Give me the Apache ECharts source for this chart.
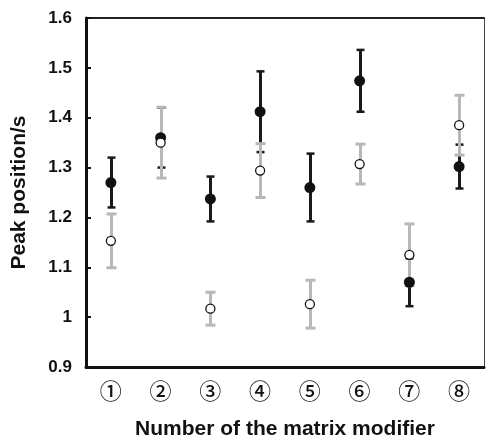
<!DOCTYPE html>
<html>
<head>
<meta charset="utf-8">
<script src="https://cdn.jsdelivr.net/npm/echarts@6/dist/echarts.min.js"></script>
<style>
  html, body { margin: 0; padding: 0; background: #fff; }
  #chart { width: 487px; height: 438px; }
</style>
</head>
<body>
<div id="chart"></div>
<script>
// Matrix modifier numbers
const categories = ['①', '②', '③', '④', '⑤', '⑥', '⑦', '⑧'];
// Filled markers: mean peak position and error
const filledMean = [1.270, 1.360, 1.237, 1.412, 1.260, 1.474, 1.070, 1.302];
const filledErr  = [0.050, 0.060, 0.045, 0.081, 0.068, 0.062, 0.048, 0.044];
// Open markers: mean peak position and error
const openMean = [1.153, 1.350, 1.017, 1.294, 1.026, 1.307, 1.125, 1.385];
const openErr  = [0.054, 0.071, 0.033, 0.054, 0.048, 0.040, 0.062, 0.060];
// Y axis range
const yMin = 0.9, yMax = 1.6, yStep = 0.1;

const LATIN = '"Liberation Sans", Arial, sans-serif';
const CJK = '"Noto Sans CJK JP", sans-serif';

function errorData(mean, err) {
  return mean.map((m, i) => [i, m - err[i], m + err[i]]);
}

function errorBarSeries(name, mean, err, color, lineW, capW, capT, z) {
  return {
    name: name,
    type: 'custom',
    z: z,
    silent: true,
    data: errorData(mean, err),
    encode: { x: 0, y: [1, 2] },
    renderItem: function (params, api) {
      const lo = api.coord([api.value(0), api.value(1)]);
      const hi = api.coord([api.value(0), api.value(2)]);
      const x = Math.round(lo[0]) + 0.5;
      const st = { stroke: color, lineWidth: lineW };
      const cs = { stroke: color, lineWidth: capT };
      return {
        type: 'group',
        children: [
          { type: 'line', shape: { x1: x, y1: lo[1], x2: x, y2: hi[1] }, style: st },
          { type: 'line', shape: { x1: x - capW / 2, y1: lo[1], x2: x + capW / 2, y2: lo[1] }, style: cs },
          { type: 'line', shape: { x1: x - capW / 2, y1: hi[1], x2: x + capW / 2, y2: hi[1] }, style: cs }
        ]
      };
    }
  };
}

const chart = echarts.init(document.getElementById('chart'));
chart.setOption({
  animation: false,
  backgroundColor: '#fff',
  grid: { left: 86, right: 3, top: 18, bottom: 71, containLabel: false, outerBoundsMode: 'none' },
  xAxis: [{
    type: 'category',
    data: categories,
    boundaryGap: true,
    name: 'Number of the matrix modifier',
    nameLocation: 'middle',
    nameGap: 52,
    nameTextStyle: { fontFamily: LATIN, fontSize: 21, fontWeight: 'bold', color: '#111' },
    axisLine: { lineStyle: { color: '#111', width: 3 } },
    axisTick: { inside: true, length: 5, lineStyle: { color: '#111', width: 2 } },
    axisLabel: { fontFamily: CJK, fontSize: 22, fontWeight: 500, color: '#111', margin: 13 },
    splitLine: { show: false }
  }, {
    type: 'category',
    data: categories,
    position: 'top',
    axisLine: { lineStyle: { color: '#222', width: 2 } },
    axisTick: { show: false },
    axisLabel: { show: false }
  }],
  yAxis: [{
    type: 'value',
    min: yMin,
    max: yMax,
    interval: yStep,
    name: 'Peak position/s',
    nameLocation: 'middle',
    nameGap: 56,
    nameTextStyle: { fontFamily: LATIN, fontSize: 21, fontWeight: 'bold', color: '#111' },
    axisLine: { show: true, lineStyle: { color: '#111', width: 3 } },
    axisTick: { show: true, inside: true, length: 5, lineStyle: { color: '#111', width: 2 } },
    axisLabel: { fontFamily: LATIN, fontSize: 17, fontWeight: 'bold', color: '#111', margin: 14 },
    splitLine: { show: false }
  }, {
    type: 'value',
    min: yMin,
    max: yMax,
    interval: yStep,
    position: 'right',
    axisLine: { show: true, lineStyle: { color: '#444', width: 1 } },
    axisTick: { show: false },
    axisLabel: { show: false },
    splitLine: { show: false }
  }],
  series: [
    errorBarSeries('filledErr', filledMean, filledErr, '#1a1a1a', 3, 8, 2.5, 2),
    errorBarSeries('openErr', openMean, openErr, '#b8b8b8', 3, 10, 3, 3),
    {
      name: 'filled',
      type: 'scatter',
      z: 4,
      data: filledMean.map((v, i) => [i, v]),
      symbol: 'circle',
      symbolSize: 11,
      itemStyle: { color: '#111', borderColor: '#111', borderWidth: 0, opacity: 1 }
    },
    {
      name: 'open',
      type: 'scatter',
      z: 5,
      data: openMean.map((v, i) => [i, v]),
      symbol: 'circle',
      symbolSize: 9,
      itemStyle: { color: '#fff', borderColor: '#111', borderWidth: 1.3, opacity: 1 }
    }
  ]
});
</script>
</body>
</html>
